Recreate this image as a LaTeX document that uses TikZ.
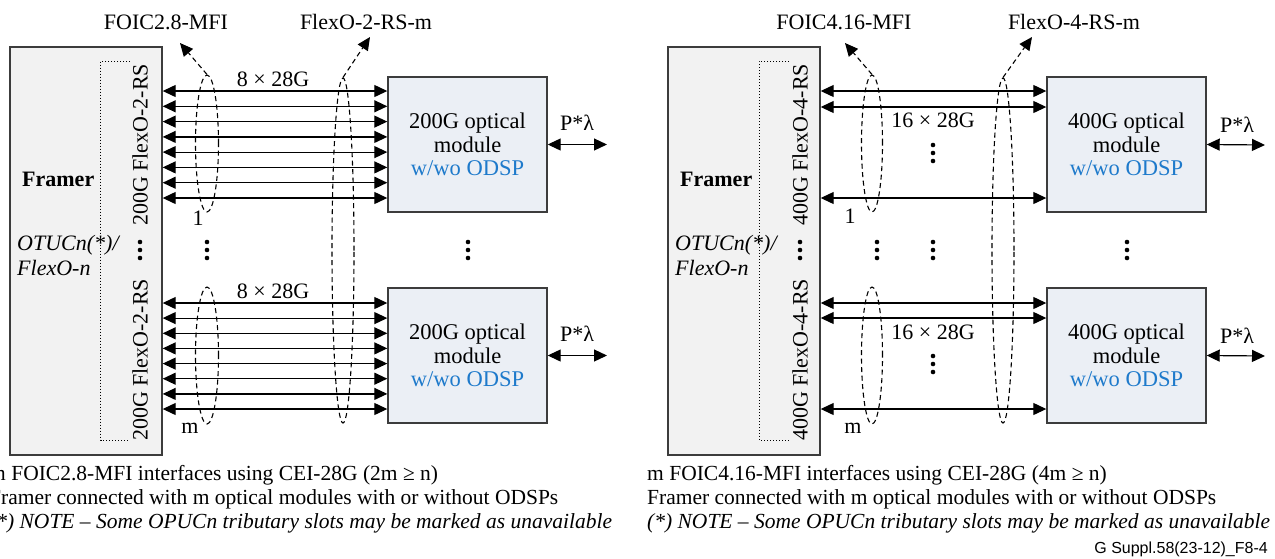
\documentclass[tikz,border=0pt]{standalone}
\usepackage{fontspec}
\setmainfont{Liberation Serif}
\newfontfamily\footfont{Liberation Sans}
\usetikzlibrary{arrows.meta,shapes.geometric}
\definecolor{framerfill}{RGB}{242,242,242}
\definecolor{modfill}{RGB}{235,239,245}
\definecolor{edgegray}{RGB}{60,60,60}
\definecolor{odspblue}{RGB}{30,122,203}
\tikzset{
  txt/.style={font=\fontsize{22}{24}\selectfont, inner sep=0pt},
  boldtxt/.style={font=\fontsize{22}{24}\selectfont\bfseries, inner sep=0pt},
  ittxt/.style={font=\fontsize{22}{24}\selectfont\itshape, inner sep=0pt},
  framerbox/.style={draw=edgegray, line width=1.4pt, fill=framerfill,
    minimum width=152, minimum height=408, inner sep=0pt},
  modbox/.style={draw=edgegray, line width=1.4pt, fill=modfill,
    minimum width=159, minimum height=135, inner sep=0pt, align=center,
    font=\fontsize{22.5}{23.5}\selectfont},
  dotbr/.style={dotted, line width=1pt},
  biarrow/.style={line width=1.2pt,
    {Triangle[length=13pt,width=12pt]}-{Triangle[length=13pt,width=12pt]}},
  dashell/.style={draw, ellipse, dash pattern=on 5pt off 3.5pt, line width=1.1pt,
    inner sep=0pt},
  dasharrow/.style={dash pattern=on 5pt off 3.5pt, line width=1.1pt,
    -{Triangle[length=13pt,width=12pt]}},
  captxt/.style={font=\fontsize{21.5}{24}\selectfont, inner sep=0pt, anchor=base west},
  capit/.style={font=\fontsize{21.5}{24}\selectfont\itshape, inner sep=0pt, anchor=base west},
}
\newcommand\dotcol[2]{\foreach \dy in {-8,0,8} \fill (#1,#2+\dy) circle[radius=2.3];}
\begin{document}
\begin{tikzpicture}[x=1pt,y=-1pt]
\useasboundingbox (0,0) rectangle (1275,558);

% ===================== 200G case =====================
\node[framerbox] (fL) at (86,251) {};
\node[boldtxt, anchor=west] (fLname) at (22,179) {Framer};
\node[ittxt, anchor=west] (fLo1) at (17,245) {OTUCn(*)/};
\node[ittxt, anchor=west] (fLo2) at (17,268) {FlexO-n};
\draw[dotbr] (130,61) -- (100.7,61) -- (100.7,440) -- (130,440);
\node[txt, rotate=90] (sL1) at (140,145) {200G FlexO-2-RS};
\node[txt, rotate=90] (sL2) at (140,360) {200G FlexO-2-RS};
\dotcol{140}{250}

\node[modbox] (mL1) at (467.5,144.5) {200G optical\\module\\\textcolor{odspblue}{w/wo ODSP}};
\node[modbox] (mL2) at (467.5,355.5) {200G optical\\module\\\textcolor{odspblue}{w/wo ODSP}};
\dotcol{468}{250}

\foreach \y in {91,106.3,121.6,136.9,152.1,167.4,182.7,198}
  \draw[biarrow] (fL.east |- 0,\y) -- (mL1.west |- 0,\y);
\foreach \y in {303,318.1,333.3,348.4,363.6,378.7,393.9,409}
  \draw[biarrow] (fL.east |- 0,\y) -- (mL2.west |- 0,\y);

\node[txt] (rL1) at (273,79) {8 × 28G};
\node[txt] (rL2) at (273,291) {8 × 28G};

\node[dashell, minimum width=23, minimum height=137] (eL1) at (207,143.5) {};
\node[dashell, minimum width=23, minimum height=137] (eL2) at (207,355.5) {};
\node[dashell, minimum width=22, minimum height=345] (eLb) at (343,250.5) {};
\dotcol{207}{250}

\node[txt] (nL1) at (198,218) {1};
\node[txt] (nL2) at (190,428) {m};

\node[txt] (lLa) at (166,22) {FOIC2.8-MFI};
\node[txt] (lLb) at (366,22) {FlexO-2-RS-m};
\coordinate (tLa) at (180,43);
\coordinate (tLb) at (370,37);
\draw[dasharrow] (eL1.north) -- (tLa);
\draw[dasharrow] (eLb.north) -- (tLb);

\coordinate (pL1) at (607,144.5);
\coordinate (pL2) at (607,355.5);
\draw[biarrow] (mL1.east) -- (pL1);
\draw[biarrow] (mL2.east) -- (pL2);
\node[txt] (qL1) at (577,123) {P*λ};
\node[txt] (qL2) at (577,334) {P*λ};

\node[captxt] (cL1) at (-11,480) {m FOIC2.8-MFI interfaces using CEI-28G (2m ≥ n)};
\node[captxt] (cL2) at (-11,504) {Framer connected with m optical modules with or without ODSPs};
\node[capit] (cL3) at (-11,528) {(*) NOTE – Some OPUCn tributary slots may be marked as unavailable};

% ===================== 400G case =====================
\node[framerbox] (fR) at (744,251) {};
\node[boldtxt, anchor=west] (fRname) at (680,179) {Framer};
\node[ittxt, anchor=west] (fRo1) at (675,245) {OTUCn(*)/};
\node[ittxt, anchor=west] (fRo2) at (675,268) {FlexO-n};
\draw[dotbr] (789,61) -- (759,61) -- (759,440) -- (789,440);
\node[txt, rotate=90] (sR1) at (800,145) {400G FlexO-4-RS};
\node[txt, rotate=90] (sR2) at (800,360) {400G FlexO-4-RS};
\dotcol{800}{250}

\node[modbox] (mR1) at (1126.5,144.5) {400G optical\\module\\\textcolor{odspblue}{w/wo ODSP}};
\node[modbox] (mR2) at (1126.5,355.5) {400G optical\\module\\\textcolor{odspblue}{w/wo ODSP}};
\dotcol{1127}{250}

\foreach \y in {91,107,198}
  \draw[biarrow] (fR.east |- 0,\y) -- (mR1.west |- 0,\y);
\foreach \y in {303,318,409}
  \draw[biarrow] (fR.east |- 0,\y) -- (mR2.west |- 0,\y);

\node[txt] (rR1) at (933,120) {16 × 28G};
\node[txt] (rR2) at (933,332) {16 × 28G};
\dotcol{933}{153}
\dotcol{933}{364}
\dotcol{933}{250}

\node[dashell, minimum width=21, minimum height=137] (eR1) at (872,143.5) {};
\node[dashell, minimum width=21, minimum height=137] (eR2) at (872,355.5) {};
\node[dashell, minimum width=22, minimum height=345] (eRb) at (1003,250.5) {};
\dotcol{877}{250}

\node[txt] (nR1) at (850,216) {1};
\node[txt] (nR2) at (853,428) {m};

\node[txt] (lRa) at (844,22) {FOIC4.16-MFI};
\node[txt] (lRb) at (1074,22) {FlexO-4-RS-m};
\coordinate (tRa) at (845,43);
\coordinate (tRb) at (1032,37);
\draw[dasharrow] (eR1.north) -- (tRa);
\draw[dasharrow] (eRb.north) -- (tRb);

\coordinate (pR1) at (1265,145);
\coordinate (pR2) at (1265,356);
\draw[biarrow] (mR1.east) -- (pR1);
\draw[biarrow] (mR2.east) -- (pR2);
\node[txt] (qR1) at (1237,125) {P*λ};
\node[txt] (qR2) at (1237,336) {P*λ};

\node[captxt] (cR1) at (647,480) {m FOIC4.16-MFI interfaces using CEI-28G (4m ≥ n)};
\node[captxt] (cR2) at (647,504) {Framer connected with m optical modules with or without ODSPs};
\node[capit] (cR3) at (647,528) {(*) NOTE – Some OPUCn tributary slots may be marked as unavailable};

\node[font=\footfont\fontsize{16}{18}\selectfont, inner sep=0pt, anchor=base east]
  (tag) at (1268,553) {G Suppl.58(23-12)\_F8-4};
\end{tikzpicture}
\end{document}
